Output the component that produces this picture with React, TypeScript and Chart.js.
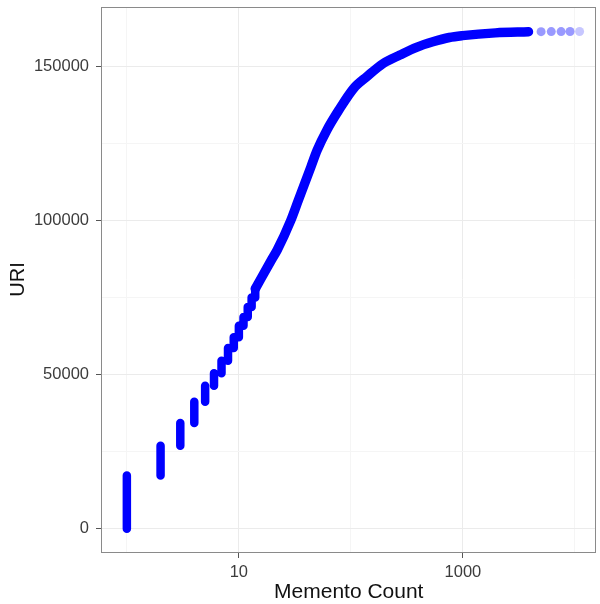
import { useEffect, useRef } from 'react';
import { Chart, registerables } from 'chart.js';

Chart.register(...registerables);

// Low memento counts: each count occupies a contiguous run of URI ranks,
// ending at the cumulative number of URIs with that many mementos or fewer.
const runCounts = [1, 2, 3, 4, 5, 6, 7, 8, 9, 10, 11, 12, 13, 14];
const runUris = [17300, 26950, 34300, 41250, 46450, 50450, 54550, 58650, 62150, 65900, 68750, 72000, 75100, 77900];

// Higher counts: cumulative URI rank against memento count
const curveCounts = [14, 19.5, 22, 29, 34, 44, 50, 61, 78, 106, 139, 195, 274, 385, 539, 755, 990, 1956, 3850];
const curveUris = [77900, 87200, 90500, 100000, 106700, 117500, 122900, 129400, 135900, 143000, 146800, 151100, 153800, 156300, 158100, 159500, 160100, 161000, 161350];

// The few URIs with the largest memento counts
const tailCounts = [4990, 6150, 7530, 9050, 11010];
const tailUris = [161400, 161410, 161420, 161430, 161440];

const xMajorTicks = [10, 1000];
const xMinorTicks = [1, 100, 10000];
const yMajorTicks = [0, 50000, 100000, 150000];
const yMinorTicks = [25000, 75000, 125000];

const X_MIN = 0.634;
const X_MAX = 15270;
const Y_MIN = -7560;
const Y_MAX = 169400;

const BLUE = '#0000ff';
const FONT = '"Liberation Sans", Arial, Helvetica, sans-serif';

const panelBorder = {
  id: 'panelBorder',
  afterDraw(chart: any) {
    const { ctx, chartArea } = chart;
    ctx.save();
    ctx.strokeStyle = '#8a8a8a';
    ctx.lineWidth = 1;
    ctx.strokeRect(
      Math.round(chartArea.left) - 0.5,
      Math.round(chartArea.top) + 0.5,
      Math.round(chartArea.right - chartArea.left),
      Math.round(chartArea.bottom - chartArea.top)
    );
    ctx.restore();
  },
};

const noEdgePadding = (scale: any) => {
  scale.paddingTop = 0;
  scale.paddingBottom = 0;
  scale.paddingLeft = 0;
  scale.paddingRight = 0;
};

export default function App() {
  const canvasRef = useRef<HTMLCanvasElement | null>(null);

  useEffect(() => {
    document.body.style.margin = '0';
    const canvas = canvasRef.current;
    if (!canvas) return;

    const runData: { x: number; y: number | null }[] = [];
    let prev = 0;
    runCounts.forEach((c, i) => {
      runData.push({ x: c, y: prev + 1 });
      runData.push({ x: c, y: runUris[i] });
      runData.push({ x: c, y: null });
      prev = runUris[i];
    });
    const curveData = curveCounts.map((c, i) => ({ x: c, y: curveUris[i] }));
    const tailData = tailCounts.map((c, i) => ({ x: c, y: tailUris[i] }));

    const xTicks = [...xMinorTicks, ...xMajorTicks].sort((a, b) => a - b);
    const yTicks = [...yMinorTicks, ...yMajorTicks].sort((a, b) => a - b);

    const chart = new Chart(canvas, {
      type: 'line',
      data: {
        datasets: [
          {
            data: runData,
            borderColor: BLUE,
            borderWidth: 8.5,
            borderCapStyle: 'round',
            borderJoinStyle: 'round',
            pointRadius: 0,
            spanGaps: false,
            fill: false,
          },
          {
            data: curveData,
            borderColor: BLUE,
            borderWidth: 9.5,
            borderCapStyle: 'round',
            borderJoinStyle: 'round',
            cubicInterpolationMode: 'monotone',
            pointRadius: 0,
            fill: false,
          },
          {
            type: 'scatter',
            data: tailData,
            backgroundColor: (ctx: any) =>
              ctx.dataIndex === tailCounts.length - 1 ? 'rgba(0,0,255,0.22)' : 'rgba(0,0,255,0.4)',
            borderWidth: 0,
            pointRadius: 4.5,
            showLine: false,
          } as any,
        ],
      },
      options: {
        animation: false,
        responsive: false,
        maintainAspectRatio: false,
        layout: { padding: { top: 7, right: 2, left: 0, bottom: 0 } },
        plugins: { legend: { display: false }, tooltip: { enabled: false } },
        scales: {
          x: {
            type: 'logarithmic',
            min: X_MIN,
            max: X_MAX,
            afterBuildTicks: (scale: any) => {
              scale.ticks = xTicks.map((v) => ({ value: v }));
            },
            afterFit: (scale: any) => {
              scale.height = 52;
              noEdgePadding(scale);
            },
            border: { display: false },
            grid: {
              color: (ctx: any) => (xMajorTicks.includes(ctx.tick?.value) ? '#ebebeb' : '#f5f5f5'),
              tickColor: (ctx: any) => (xMajorTicks.includes(ctx.tick?.value) ? '#555555' : 'rgba(0,0,0,0)'),
              tickLength: 6,
              lineWidth: 1,
            },
            ticks: {
              autoSkip: false,
              maxRotation: 0,
              padding: 5,
              color: '#3c3c3c',
              font: { family: FONT, size: 16.5 },
              callback: (v: any) => (xMajorTicks.includes(Number(v)) ? String(v) : ''),
            },
            title: {
              display: true,
              text: 'Memento Count',
              color: '#111111',
              font: { family: FONT, size: 21, lineHeight: 1 },
              padding: { top: 0, bottom: 1 },
            },
          },
          y: {
            type: 'linear',
            min: Y_MIN,
            max: Y_MAX,
            afterBuildTicks: (scale: any) => {
              scale.ticks = yTicks.map((v) => ({ value: v }));
            },
            afterFit: (scale: any) => {
              scale.width = 102;
              noEdgePadding(scale);
            },
            border: { display: false },
            grid: {
              color: (ctx: any) => (yMajorTicks.includes(ctx.tick?.value) ? '#ebebeb' : '#f5f5f5'),
              tickColor: (ctx: any) => (yMajorTicks.includes(ctx.tick?.value) ? '#555555' : 'rgba(0,0,0,0)'),
              tickLength: 6,
              lineWidth: 1,
            },
            ticks: {
              autoSkip: false,
              padding: 7,
              color: '#3c3c3c',
              font: { family: FONT, size: 16.5 },
              callback: (v: any) => (yMajorTicks.includes(Number(v)) ? String(v) : ''),
            },
            title: {
              display: true,
              text: 'URI',
              color: '#111111',
              font: { family: FONT, size: 20, lineHeight: 1 },
              padding: { top: 8, bottom: 0 },
            },
          },
        },
      },
      plugins: [panelBorder],
    });

    return () => chart.destroy();
  }, []);

  return (
    <div style={{ width: 600, height: 604, background: '#ffffff' }}>
      <canvas ref={canvasRef} width={600} height={604} style={{ display: 'block' }} />
    </div>
  );
}
